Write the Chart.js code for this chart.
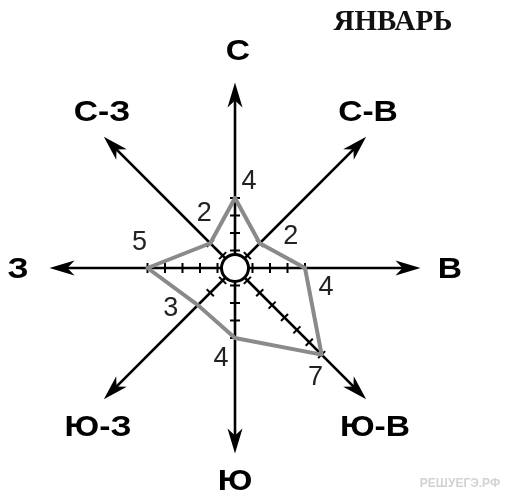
<!DOCTYPE html>
<html>
<head>
<meta charset="utf-8">
<script src="https://cdn.jsdelivr.net/npm/chart.js@4"></script>
<style>
  html, body { margin: 0; padding: 0; background: #fff; }
  #wrap { width: 506px; height: 501px; }
</style>
</head>
<body>
<div id="wrap"><canvas id="roseChart" width="506" height="501"></canvas></div>
<script>
// Wind rose, January: days with wind from each direction
const directions = ['С', 'С-В', 'В', 'Ю-В', 'Ю', 'Ю-З', 'З', 'С-З'];
const windDays = [4, 2, 4, 7, 4, 3, 5, 2];
const monthTitle = 'ЯНВАРЬ';
const watermark = 'РЕШУЕГЭ.РФ';

// label offsets from the data point (px), one per direction
const valueOffsets = [[14, -16], [31, -7], [21, 20], [-6, 23], [-14, 21], [-27, 3], [-8, -25], [-6, -30]];
// direction label offsets from the centre (px)
const dirOffsets = [[3, -216], [133, -155], [215, 2], [140, 160], [0, 214], [-137, 160], [-217, 2], [-133, -155]];

const AXIS_END = 10.6;

const windRose = {
    id: 'windRose',
    beforeDatasetsDraw(chart) {
        const s = chart.scales.r;
        const ctx = chart.ctx;
        ctx.save();
        ctx.strokeStyle = '#000';
        ctx.fillStyle = '#000';
        directions.forEach((d, i) => {
            const a = s.getIndexAngle(i) - Math.PI / 2;
            const ux = Math.cos(a), uy = Math.sin(a);
            const nx = -uy, ny = ux;
            const tip = s.getPointPosition(i, s.getDistanceFromCenterForValue(AXIS_END));

            // axis line
            ctx.lineWidth = 2.6;
            ctx.beginPath();
            ctx.moveTo(s.xCenter, s.yCenter);
            ctx.lineTo(tip.x - 15 * ux, tip.y - 15 * uy);
            ctx.stroke();

            // arrow head
            ctx.beginPath();
            ctx.moveTo(tip.x, tip.y);
            ctx.lineTo(tip.x - 25 * ux + 7.5 * nx, tip.y - 25 * uy + 7.5 * ny);
            ctx.lineTo(tip.x - 18 * ux, tip.y - 18 * uy);
            ctx.lineTo(tip.x - 25 * ux - 7.5 * nx, tip.y - 25 * uy - 7.5 * ny);
            ctx.closePath();
            ctx.fill();

            // unit ticks up to the value
            ctx.lineWidth = 2;
            for (let v = 1; v <= windDays[i]; v++) {
                const p = s.getPointPosition(i, s.getDistanceFromCenterForValue(v));
                ctx.beginPath();
                ctx.moveTo(p.x - 5 * nx, p.y - 5 * ny);
                ctx.lineTo(p.x + 5 * nx, p.y + 5 * ny);
                ctx.stroke();
            }
        });
        ctx.restore();
    },
    afterDatasetsDraw(chart) {
        const s = chart.scales.r;
        const ctx = chart.ctx;
        ctx.save();

        // centre circle
        ctx.beginPath();
        ctx.arc(s.xCenter, s.yCenter, 13.5, 0, Math.PI * 2);
        ctx.fillStyle = '#fff';
        ctx.fill();
        ctx.lineWidth = 3;
        ctx.strokeStyle = '#000';
        ctx.stroke();

        ctx.textAlign = 'center';
        ctx.textBaseline = 'middle';

        // value labels
        ctx.fillStyle = '#222';
        ctx.font = '27px "Liberation Sans", Arial, sans-serif';
        windDays.forEach((v, i) => {
            const p = s.getPointPosition(i, s.getDistanceFromCenterForValue(v));
            ctx.fillText(String(v), p.x + valueOffsets[i][0], p.y + valueOffsets[i][1]);
        });

        // direction labels (slightly wide face in the original)
        ctx.fillStyle = '#000';
        ctx.font = 'bold 30px "Liberation Sans", Arial, sans-serif';
        directions.forEach((d, i) => {
            const x = s.xCenter + dirOffsets[i][0];
            const y = s.yCenter + dirOffsets[i][1];
            ctx.save();
            ctx.translate(x, y);
            ctx.scale(1.12, 1);
            ctx.fillText(d, 0, 0);
            ctx.restore();
        });

        // title
        ctx.font = 'bold 29px "Liberation Serif", "Times New Roman", serif';
        ctx.fillStyle = '#111';
        ctx.fillText(monthTitle, 393, 23);

        // watermark
        ctx.font = 'bold 12px "Liberation Sans", Arial, sans-serif';
        ctx.fillStyle = '#d2d2d2';
        ctx.fillText(watermark, 460, 484, 84);

        ctx.restore();
    }
};

new Chart(document.getElementById('roseChart'), {
    type: 'radar',
    data: {
        labels: directions,
        datasets: [{
            data: windDays,
            borderColor: '#8a8a8a',
            borderWidth: 4,
            borderJoinStyle: 'round',
            fill: false,
            pointRadius: 0,
            tension: 0
        }]
    },
    options: {
        responsive: false,
        animation: false,
        layout: { padding: { left: 60, top: 93, right: 96, bottom: 58 } },
        plugins: {
            legend: { display: false },
            tooltip: { enabled: false }
        },
        scales: {
            r: {
                min: 0,
                max: 10,
                ticks: { display: false },
                grid: { display: false },
                angleLines: { display: false },
                pointLabels: { display: false }
            }
        }
    },
    plugins: [windRose]
});
</script>
</body>
</html>
